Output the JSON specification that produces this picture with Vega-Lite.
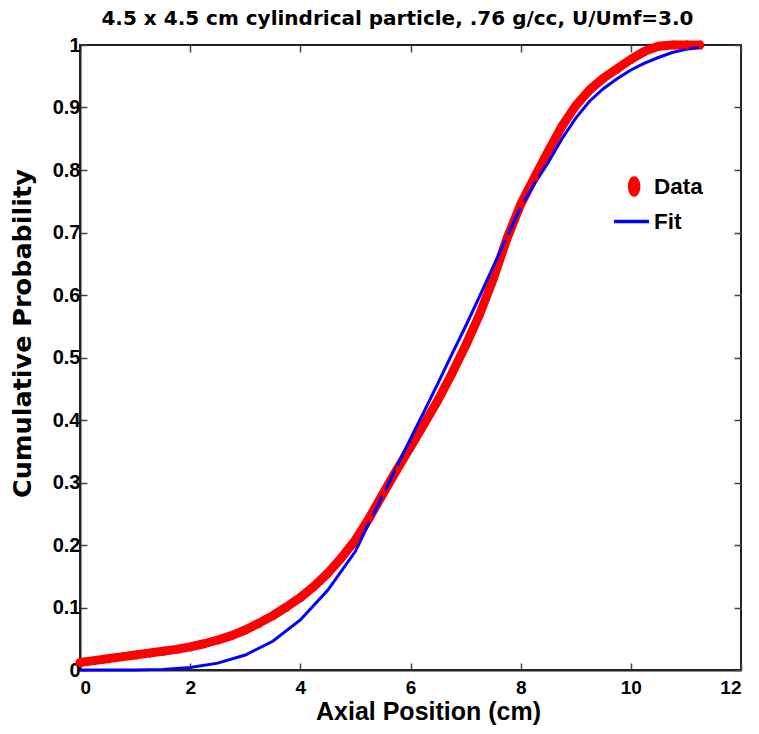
{
  "$schema": "https://vega.github.io/schema/vega-lite/v6.json",
  "autosize": "none",
  "width": 661,
  "height": 625,
  "padding": {"left": 80, "top": 45, "right": 18, "bottom": 64},
  "background": "white",
  "title": {
    "text": "4.5 x 4.5 cm cylindrical particle, .76 g/cc, U/Umf=3.0",
    "font": "DejaVu Sans",
    "fontSize": 20,
    "fontWeight": "bold",
    "color": "black",
    "anchor": "middle",
    "frame": "group",
    "baseline": "bottom",
    "offset": -14,
    "dx": -13
  },
  "config": {
    "view": {"stroke": "#222222", "strokeWidth": 2},
    "axis": {
      "grid": false,
      "domainColor": "#222222",
      "domainWidth": 2,
      "tickColor": "#444444",
      "tickWidth": 1.5,
      "labelColor": "black",
      "titleColor": "black",
      "labelFont": "Liberation Sans",
      "labelFontWeight": "bold",
      "titleFont": "Liberation Sans",
      "titleFontWeight": "bold"
    }
  },
  "datasets": {
    "curves": [
      {"series": "Data", "x": 0, "y": 0.012},
      {"series": "Data", "x": 0.25, "y": 0.015},
      {"series": "Data", "x": 0.5, "y": 0.018},
      {"series": "Data", "x": 0.75, "y": 0.021},
      {"series": "Data", "x": 1.0, "y": 0.024},
      {"series": "Data", "x": 1.25, "y": 0.027},
      {"series": "Data", "x": 1.5, "y": 0.030},
      {"series": "Data", "x": 1.75, "y": 0.033},
      {"series": "Data", "x": 2.0, "y": 0.037},
      {"series": "Data", "x": 2.25, "y": 0.042},
      {"series": "Data", "x": 2.5, "y": 0.048},
      {"series": "Data", "x": 2.75, "y": 0.055},
      {"series": "Data", "x": 3.0, "y": 0.064},
      {"series": "Data", "x": 3.25, "y": 0.075},
      {"series": "Data", "x": 3.5, "y": 0.087},
      {"series": "Data", "x": 3.75, "y": 0.101},
      {"series": "Data", "x": 4.0, "y": 0.116},
      {"series": "Data", "x": 4.25, "y": 0.134},
      {"series": "Data", "x": 4.5, "y": 0.155},
      {"series": "Data", "x": 4.75, "y": 0.180},
      {"series": "Data", "x": 5.0, "y": 0.208},
      {"series": "Data", "x": 5.25, "y": 0.243},
      {"series": "Data", "x": 5.5, "y": 0.282},
      {"series": "Data", "x": 5.75, "y": 0.320},
      {"series": "Data", "x": 6.0, "y": 0.357},
      {"series": "Data", "x": 6.25, "y": 0.394},
      {"series": "Data", "x": 6.5, "y": 0.432},
      {"series": "Data", "x": 6.75, "y": 0.474},
      {"series": "Data", "x": 7.0, "y": 0.519},
      {"series": "Data", "x": 7.25, "y": 0.568},
      {"series": "Data", "x": 7.5, "y": 0.625},
      {"series": "Data", "x": 7.75, "y": 0.690},
      {"series": "Data", "x": 8.0, "y": 0.745},
      {"series": "Data", "x": 8.25, "y": 0.788},
      {"series": "Data", "x": 8.5, "y": 0.830},
      {"series": "Data", "x": 8.75, "y": 0.870},
      {"series": "Data", "x": 9.0, "y": 0.903},
      {"series": "Data", "x": 9.25, "y": 0.928},
      {"series": "Data", "x": 9.5, "y": 0.947},
      {"series": "Data", "x": 9.75, "y": 0.962},
      {"series": "Data", "x": 10.0, "y": 0.977},
      {"series": "Data", "x": 10.25, "y": 0.990},
      {"series": "Data", "x": 10.5, "y": 0.998},
      {"series": "Data", "x": 10.75, "y": 1.0},
      {"series": "Data", "x": 11.0, "y": 1.0},
      {"series": "Data", "x": 11.25, "y": 1.0},
      {"series": "Fit", "x": 0, "y": 0.0},
      {"series": "Fit", "x": 0.5, "y": 0.0},
      {"series": "Fit", "x": 1.0, "y": 0.0},
      {"series": "Fit", "x": 1.5, "y": 0.001},
      {"series": "Fit", "x": 2.0, "y": 0.004},
      {"series": "Fit", "x": 2.5, "y": 0.011},
      {"series": "Fit", "x": 3.0, "y": 0.024},
      {"series": "Fit", "x": 3.5, "y": 0.046},
      {"series": "Fit", "x": 4.0, "y": 0.080},
      {"series": "Fit", "x": 4.5, "y": 0.128},
      {"series": "Fit", "x": 5.0, "y": 0.190},
      {"series": "Fit", "x": 5.25, "y": 0.236},
      {"series": "Fit", "x": 5.5, "y": 0.280},
      {"series": "Fit", "x": 5.75, "y": 0.325},
      {"series": "Fit", "x": 6.0, "y": 0.370},
      {"series": "Fit", "x": 6.25, "y": 0.414},
      {"series": "Fit", "x": 6.5, "y": 0.459},
      {"series": "Fit", "x": 6.75, "y": 0.505},
      {"series": "Fit", "x": 7.0, "y": 0.550},
      {"series": "Fit", "x": 7.25, "y": 0.597},
      {"series": "Fit", "x": 7.5, "y": 0.645},
      {"series": "Fit", "x": 7.75, "y": 0.693},
      {"series": "Fit", "x": 8.0, "y": 0.740},
      {"series": "Fit", "x": 8.25, "y": 0.778},
      {"series": "Fit", "x": 8.5, "y": 0.812},
      {"series": "Fit", "x": 8.75, "y": 0.850},
      {"series": "Fit", "x": 9.0, "y": 0.883},
      {"series": "Fit", "x": 9.25, "y": 0.910},
      {"series": "Fit", "x": 9.5, "y": 0.930},
      {"series": "Fit", "x": 9.75, "y": 0.946},
      {"series": "Fit", "x": 10.0, "y": 0.960},
      {"series": "Fit", "x": 10.25, "y": 0.971},
      {"series": "Fit", "x": 10.5, "y": 0.980},
      {"series": "Fit", "x": 10.75, "y": 0.988},
      {"series": "Fit", "x": 11.0, "y": 0.993},
      {"series": "Fit", "x": 11.25, "y": 0.996}
    ]
  },
  "data": {"name": "curves"},
  "resolve": {"axis": {"x": "independent", "y": "independent"}},
  "layer": [
    {
      "transform": [{"filter": "datum.series === 'Data'"}],
      "mark": {"type": "line", "color": "#ff0000", "strokeWidth": 9, "strokeCap": "round", "strokeJoin": "round", "clip": false},
      "encoding": {
        "x": {"field": "x", "type": "quantitative", "scale": {"domain": [0, 12], "nice": false, "zero": false},
          "axis": {"orient": "bottom", "values": [0, 2, 4, 6, 8, 10, 12], "format": "~g", "labelFontSize": 19, "labelPadding": 15.5, "tickSize": -7, "title": "Axial Position (cm)", "titleFontSize": 25, "titlePadding": 2, "titleX": 348, "domain": true}},
        "y": {"field": "y", "type": "quantitative", "scale": {"domain": [0, 1], "nice": false},
          "axis": {"orient": "left", "values": [0, 0.1, 0.2, 0.3, 0.4, 0.5, 0.6, 0.7, 0.8, 0.9, 1], "format": "~g", "labelFontSize": 20, "labelPadding": 7, "tickSize": -7, "title": "Cumulative Probability", "titleFont": "DejaVu Sans", "titleFontSize": 25.5, "titlePadding": 17, "titleY": 288, "domain": true}}
      }
    },
    {
      "transform": [{"filter": "datum.series === 'Fit'"}],
      "mark": {"type": "line", "color": "#0000ff", "strokeWidth": 3, "clip": false},
      "encoding": {
        "x": {"field": "x", "type": "quantitative", "axis": {"orient": "top", "values": [0, 2, 4, 6, 8, 10, 12], "labels": false, "title": null, "domain": false, "tickSize": -7}},
        "y": {"field": "y", "type": "quantitative", "axis": {"orient": "right", "values": [0, 0.1, 0.2, 0.3, 0.4, 0.5, 0.6, 0.7, 0.8, 0.9, 1], "labels": false, "title": null, "domain": false, "tickSize": -7}}
      }
    },
    {
      "transform": [{"filter": "datum.series === 'Data'"}],
      "mark": {"type": "point", "filled": true, "size": 300, "opacity": 1, "strokeWidth": 1},
      "encoding": {
        "x": {"field": "x", "type": "quantitative", "axis": null},
        "y": {"field": "y", "type": "quantitative", "axis": null},
        "fill": {"field": "series", "type": "nominal",
          "scale": {"domain": ["Data", "Fit"], "range": ["#ff0000", "#0000ff"]},
          "legend": {"title": null, "orient": "none", "legendX": 532, "legendY": 122, "symbolSize": 1225, "symbolStrokeWidth": 3.5, "labelFont": "Liberation Sans", "labelFontWeight": "bold", "labelFontSize": 22.5, "labelColor": "black", "labelOffset": 3, "rowPadding": 0, "padding": 0}},
        "stroke": {"field": "series", "type": "nominal",
          "scale": {"domain": ["Data", "Fit"], "range": ["#ff0000", "#0000ff"]},
          "legend": {"title": null, "orient": "none", "legendX": 532, "legendY": 122, "symbolSize": 1225, "symbolStrokeWidth": 3.5, "labelFont": "Liberation Sans", "labelFontWeight": "bold", "labelFontSize": 22.5, "labelColor": "black", "labelOffset": 3, "rowPadding": 0, "padding": 0}},
        "shape": {"field": "series", "type": "nominal",
          "scale": {"domain": ["Data", "Fit"], "range": ["M0.15,-0.48A0.26,0.48 0 1,1 0.15,0.48A0.26,0.48 0 1,1 0.15,-0.48Z", "stroke"]},
          "legend": {"title": null, "orient": "none", "legendX": 532, "legendY": 122, "symbolSize": 1225, "symbolStrokeWidth": 3.5, "labelFont": "Liberation Sans", "labelFontWeight": "bold", "labelFontSize": 22.5, "labelColor": "black", "labelOffset": 3, "rowPadding": 0, "padding": 0}}
      }
    }
  ]
}
